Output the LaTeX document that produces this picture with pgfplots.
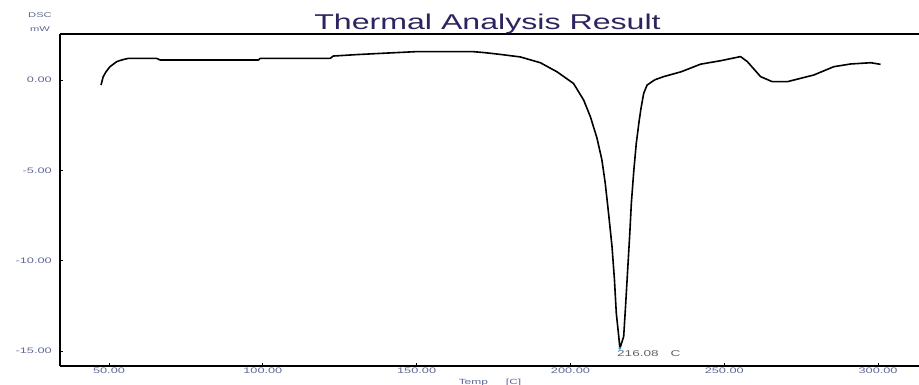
\documentclass[border=0pt]{standalone}
\usepackage{pgfplots}
\pgfplotsset{compat=1.18}
\usepackage{fontspec}
\setmainfont{Liberation Sans}
\newfontfamily\titlefont[FakeStretch=1.5]{Liberation Sans}
\newfontfamily\tickfont[FakeStretch=1.6]{Liberation Sans}
\definecolor{tickc}{RGB}{95,105,150}
\definecolor{titlec}{RGB}{45,35,95}
\definecolor{peakc}{RGB}{100,95,105}
\begin{document}
\begin{tikzpicture}
\useasboundingbox (0,0) rectangle (919bp,385bp);
\begin{axis}[
  at={(60bp,19bp)}, anchor=south west, scale only axis,
  width=859bp, height=332bp,
  xmin=34.07, xmax=313.3, ymin=-15.83, ymax=2.55,
  xtick={50,100,150,200,250,300},
  xticklabels={50.00,100.00,150.00,200.00,250.00,300.00},
  ytick={-15,-10,-5,0},
  yticklabels={-15.00,-10.00,-5.00,0.00},
  axis line style={draw=none},
  xtick pos=bottom, ytick pos=left,
  tick align=inside,
  major tick length=3bp,
  tick style={black, line width=1bp},
  xticklabel style={font=\tickfont\fontsize{8}{8}\selectfont, text=tickc, inner sep=0pt, yshift=-1.5bp},
  yticklabel style={font=\tickfont\fontsize{8}{8}\selectfont, text=tickc, inner sep=0pt, xshift=-8bp},
  clip=false,
]
\draw[line width=2bp] (rel axis cs:0,0) -- (rel axis cs:0,1);
\draw[line width=1.3bp] (rel axis cs:0,0) -- (rel axis cs:1,0);
\draw[line width=1.3bp] (rel axis cs:0,1) -- (rel axis cs:1,1);
\addplot[black, line width=1.6bp, line join=round] coordinates {
(47.4,-0.28) (48.1,0.18) (49.0,0.45) (50.3,0.74) (52.5,1.02) (54.5,1.13)
(56.3,1.2) (65.5,1.2) (66.6,1.11) (98.6,1.11) (99.1,1.2) (121.9,1.2)
(122.9,1.33) (130.6,1.41) (138.7,1.48) (149.5,1.57) (168.5,1.57) (172,1.52)
(177.2,1.42) (183.7,1.28) (190.2,0.96) (195.6,0.46) (201.0,-0.19) (204.3,-1.11)
(206.5,-2.04) (208.6,-3.2) (210.2,-4.4) (211.3,-5.7) (212.4,-7.4) (213.5,-9.2)
(214.3,-11.05) (214.9,-12.9) (215.7,-14.2) (216.08,-14.85) (217.3,-14.2)
(217.9,-12.55) (218.6,-10.5) (219.3,-8.45) (219.8,-6.8) (220.6,-5.0)
(221.4,-3.5) (222.3,-2.3) (222.9,-1.6) (223.8,-0.74) (224.9,-0.28)
(226.5,-0.09) (227.5,0.02) (230.3,0.19) (236,0.46) (242.3,0.88) (248.8,1.07)
(255.3,1.30) (257.5,1.02) (261.8,0.19) (265.6,-0.09) (270.5,-0.09)
(279.1,0.28) (285.6,0.74) (291.1,0.89) (297.6,0.96) (300.8,0.87)
};
\addplot[only marks, mark=*, mark size=1.2bp, cyan] coordinates {(216.08,-14.85)};
\end{axis}
\node[font=\titlefont\fontsize{21.5}{21.5}\selectfont, text=titlec, anchor=base] at (487.5bp,355bp) {Thermal Analysis Result};
\node[font=\tickfont\fontsize{7}{7}\selectfont, text=tickc, inner sep=0pt] at (40bp,370bp) {DSC};
\node[font=\tickfont\fontsize{7}{7}\selectfont, text=tickc, inner sep=0pt] at (40bp,356bp) {mW};
\node[font=\tickfont\fontsize{7.5}{7.5}\selectfont, text=tickc, inner sep=0pt, anchor=north] at (490bp,6.5bp) {Temp\hspace{18bp}[C]};
\node[font=\tickfont\fontsize{8.5}{8.5}\selectfont, text=peakc, inner sep=0pt, anchor=west] at (617bp,31bp) {216.08\hspace{12bp}C};
\end{tikzpicture}
\end{document}
